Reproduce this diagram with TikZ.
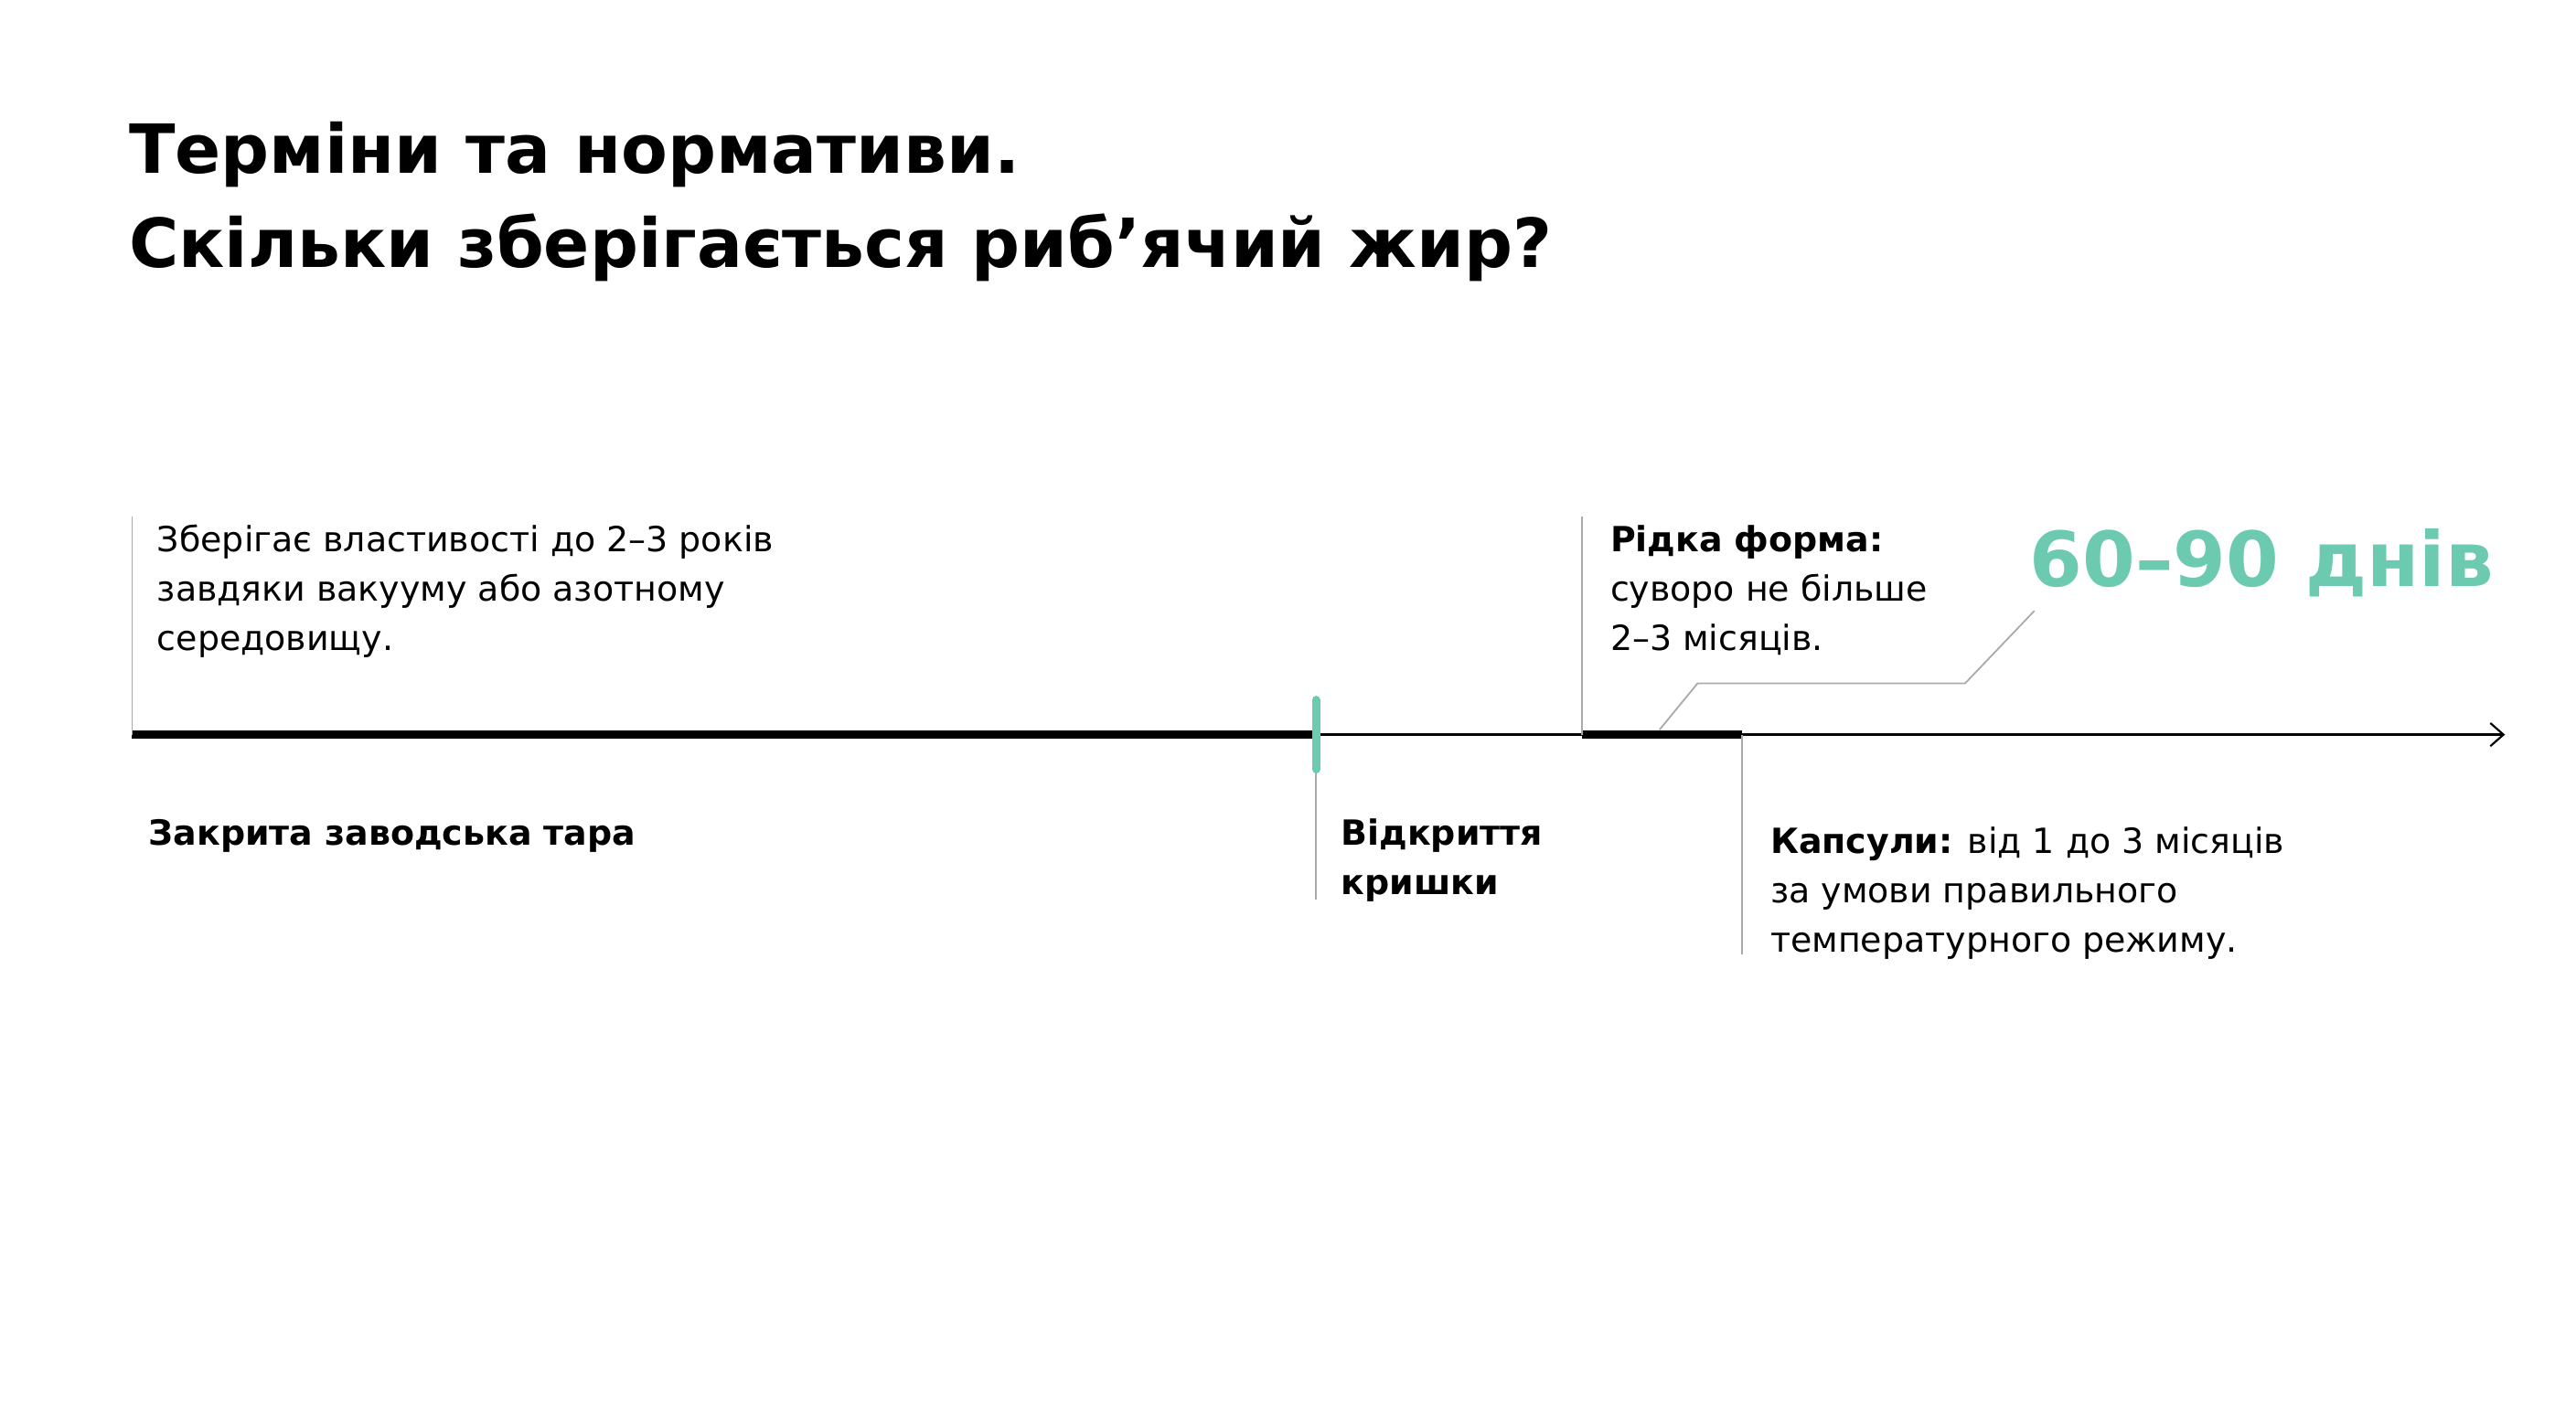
\documentclass[tikz,border=0pt]{standalone}
\usepackage{fontspec}
\setmainfont{DejaVu Sans}
\usetikzlibrary{arrows.meta}
\definecolor{teal1}{HTML}{6BCAB0}
\definecolor{gl}{HTML}{AAAAAA}
\begin{document}
\begin{tikzpicture}[x=1pt,y=-1pt,
 body/.style={anchor=base west,inner sep=0pt,font=\fontsize{21}{30}\selectfont,align=left},
 thin/.style={draw=gl,line width=1pt},
 thick/.style={line width=5pt,line cap=butt}]
\useasboundingbox[fill=white] (0,0) rectangle (1560,858);
\node[anchor=base west,inner sep=0pt,font=\fontsize{41}{57}\selectfont\bfseries,align=left] (title) at (78,162)
 {Терміни та нормативи.\\Скільки зберігається риб’ячий жир?};
% axis
\coordinate (a0) at (80,445); \coordinate (a1) at (797,445);
\coordinate (a2) at (958,445); \coordinate (a3) at (1055,445);
\coordinate (aend) at (1517,445);
\draw[line width=1.2pt,-{Straight Barb[length=8pt,width=14pt]}] (a0) -- (aend);
\draw[thick] (a0) -- (a1);
\draw[thick] (a2) -- (a3);
\draw[thin] (80,313) -- (a0);
\draw[thin] (958,313) -- (a2);
\draw[thin] (a1) -- (797,545);
\draw[thin] (a3) -- (1055,578);
\draw[teal1,line width=5pt,line cap=round] (797,424) -- (797,466);
% leader
\coordinate (l0) at (1005,442);
\draw[thin] (l0) -- (1028,414) -- (1190,414) -- (1232,370);
% texts
\node[body] (t1) at (95,394) {Зберігає властивості до 2–3 років\\завдяки вакууму або азотному\\середовищу.};
\node[body,font=\fontsize{21}{30}\selectfont\bfseries] (t2) at (90,512) {Закрита заводська тара};
\node[body,font=\fontsize{21}{30}\selectfont\bfseries] (t3) at (812,542) {Відкриття\\кришки};
\node[body] (t4) at (975,394) {\textbf{Рідка форма:}\\суворо не більше\\2–3 місяців.};
\node[body,font=\fontsize{46}{50}\selectfont\bfseries,text=teal1] (t5) at (1229,355) {60–90 днів};
\node[body] (t6) at (1072,577) {\textbf{Капсули:} від 1 до 3 місяців\\за умови правильного\\температурного режиму.};
\end{tikzpicture}
\end{document}
